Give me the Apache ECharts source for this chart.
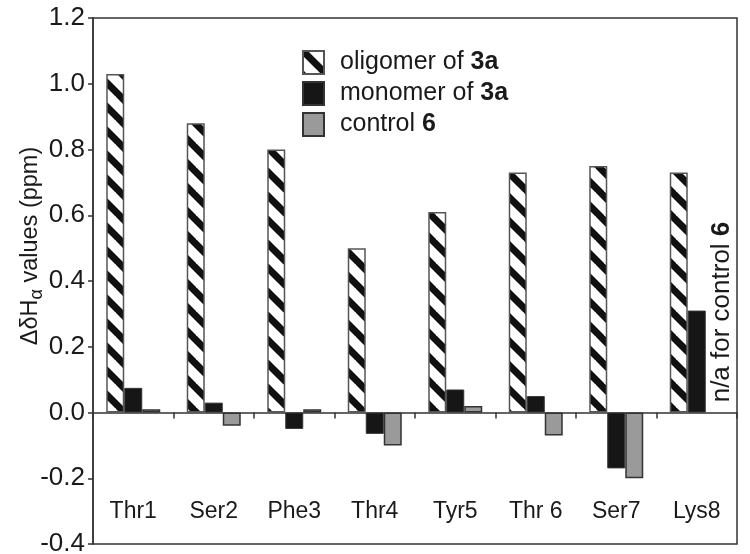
<!DOCTYPE html>
<html>
<head>
<meta charset="utf-8">
<script src="https://cdn.jsdelivr.net/npm/echarts@6/dist/echarts.min.js"></script>
<style>html,body{margin:0;padding:0;background:#fff}#c{width:750px;height:554px}</style>
</head>
<body>
<div id="c"></div>
<script>
var categories = ['Thr1', 'Ser2', 'Phe3', 'Thr4', 'Tyr5', 'Thr 6', 'Ser7', 'Lys8'];
var oligomer = [1.03, 0.88, 0.80, 0.50, 0.61, 0.73, 0.75, 0.73];
var monomer = [0.075, 0.03, -0.05, -0.065, 0.07, 0.05, -0.17, 0.31];
var control = [0.01, -0.04, 0.01, -0.10, 0.02, -0.07, -0.20, null];
var yTicks = [-0.4, -0.2, 0.0, 0.2, 0.4, 0.6, 0.8, 1.0, 1.2];

var FONT = '"Liberation Sans", Arial, Helvetica, sans-serif';
var TXT = '#1a1a1a';

function hatch() {
  var P = 24;
  var c = document.createElement('canvas');
  c.width = P; c.height = P;
  var g = c.getContext('2d');
  g.fillStyle = '#fff';
  g.fillRect(0, 0, P, P);
  g.strokeStyle = '#111';
  g.lineWidth = 7;
  for (var k = -1; k <= 1; k++) {
    g.beginPath();
    g.moveTo(k * P - 2, -2);
    g.lineTo(k * P + P + 2, P + 2);
    g.stroke();
  }
  return c;
}

var chart = echarts.init(document.getElementById('c'), null, {renderer: 'canvas'});
chart.setOption({
  animation: false,
  backgroundColor: '#fff',
  grid: {left: 93, right: 13, top: 18, bottom: 10, show: true, borderColor: '#333', borderWidth: 1.5,
    containLabel: false, outerBoundsMode: 'none'},
  legend: {
    orient: 'vertical', left: 302, top: 50, padding: 0,
    icon: 'rect',
    itemWidth: 21, itemHeight: 23, itemGap: 6,
    data: ['oligomer', 'monomer', 'control'],
    formatter: function (n) {
      if (n === 'oligomer') return 'oligomer of {b|3a}';
      if (n === 'monomer') return 'monomer of {b|3a}';
      return 'control {b|6}';
    },
    textStyle: {fontFamily: FONT, fontSize: 25, lineHeight: 23, color: TXT, padding: [0, 0, 0, 11],
      rich: {b: {fontFamily: FONT, fontSize: 25, lineHeight: 23, fontWeight: 'bold', color: TXT}}}
  },
  xAxis: [{
    type: 'category', data: categories,
    axisLine: {onZero: true, lineStyle: {color: '#333', width: 1.5}},
    axisTick: {show: true, length: 6, lineStyle: {color: '#333', width: 1.5}},
    axisLabel: {show: false},
    splitLine: {show: false}
  }, {
    type: 'category', data: categories, position: 'bottom',
    axisLine: {show: false, onZero: false},
    axisTick: {show: false},
    axisLabel: {inside: true, margin: 21, fontFamily: FONT, fontSize: 23, color: TXT},
    splitLine: {show: false}
  }],
  yAxis: {
    type: 'value', min: -0.4, max: 1.2, interval: 0.2,
    axisLine: {show: true, lineStyle: {color: '#333', width: 1.5}},
    axisTick: {show: true, length: 5, lineStyle: {color: '#333', width: 1.5}},
    splitLine: {show: false},
    axisLabel: {margin: 8, fontFamily: FONT, fontSize: 26, color: TXT,
      formatter: function (v) { return v.toFixed(1); }},
    name: '{a|ΔδH}{s|α}{a| values (ppm)}',
    nameLocation: 'middle', nameGap: 47, nameRotate: 90, nameMoveOverlap: false,
    nameTextStyle: {fontFamily: FONT, color: TXT, padding: [0, 0, 0, 70],
      rich: {
        a: {fontFamily: FONT, fontSize: 23.5, color: TXT, lineHeight: 28},
        s: {fontFamily: FONT, fontSize: 18, color: TXT, verticalAlign: 'bottom', padding: [12, 0, 0, 0]}
      }}
  },
  series: [
    {name: 'oligomer', type: 'bar', data: oligomer, barWidth: 18, barGap: '0%',
      itemStyle: {color: {image: hatch(), repeat: 'repeat'}, borderColor: '#555', borderWidth: 1.5}},
    {name: 'monomer', type: 'bar', data: monomer, barWidth: 18, barGap: '0%',
      itemStyle: {color: '#161616', borderColor: '#333', borderWidth: 1}},
    {name: 'control', type: 'bar', data: control, barWidth: 18, barGap: '0%',
      itemStyle: {color: '#9a9a9a', borderColor: '#333', borderWidth: 1.5}}
  ],
  graphic: [{
    type: 'text', x: 722, y: 312, rotation: Math.PI / 2,
    style: {text: 'n/a for control {b|6}', fontFamily: FONT, fontSize: 26, fill: TXT,
      align: 'center', verticalAlign: 'middle',
      rich: {b: {fontFamily: FONT, fontSize: 26, fontWeight: 'bold', fill: TXT}}}
  }]
});
</script>
</body>
</html>
